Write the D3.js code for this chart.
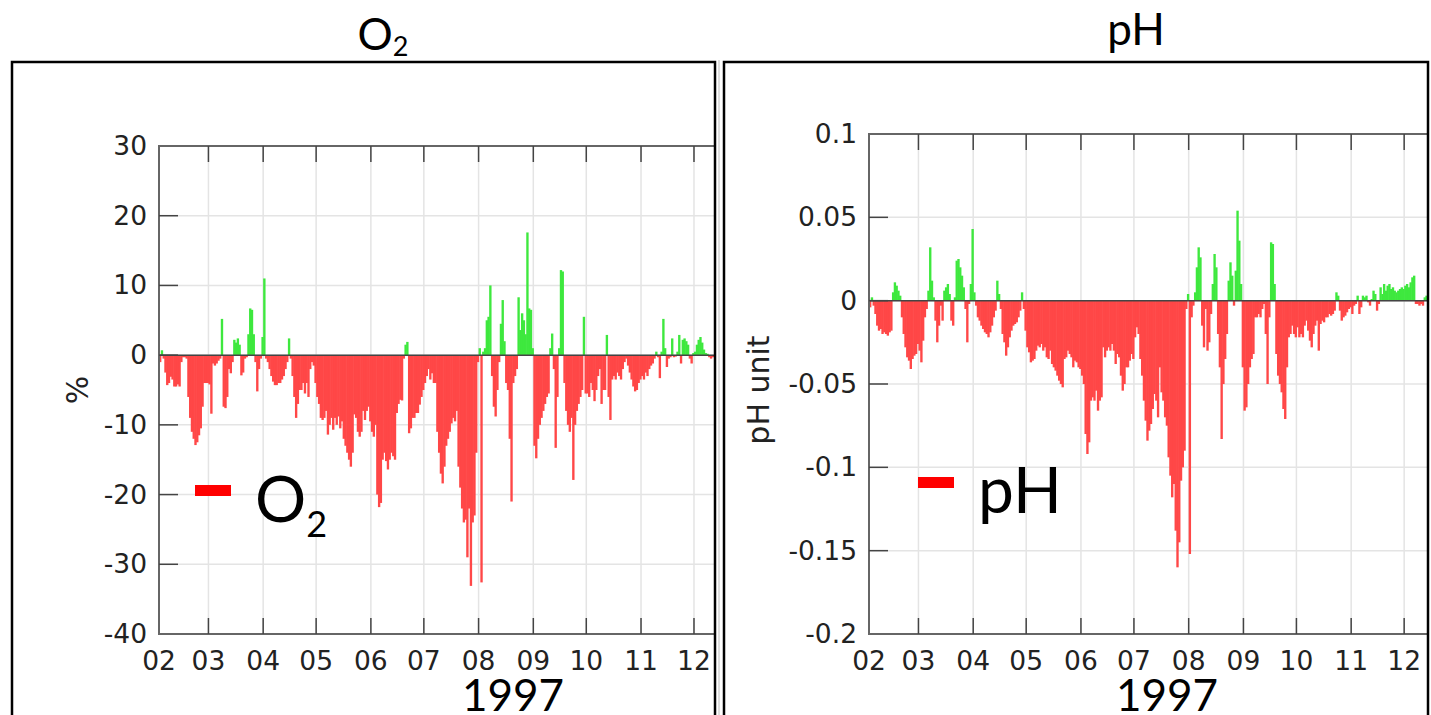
<!DOCTYPE html>
<html>
<head>
<meta charset="utf-8">
<script src="https://cdn.jsdelivr.net/npm/d3@7"></script>
<style>
  body { margin: 0; background: #fff; }
  svg { display: block; }
</style>
</head>
<body>
<div id="chart"></div>
<script>
// daily anomalies, one value per day starting 1 Feb 1997
const startDate = new Date(1997, 1, 1);

const o2Values = [
  // Feb
  -1, 0.7, -0.5, -2.5, -4.3, -4, -3.1, -3.5, -4.5, -4.5, -4.2, -4.5, -1, -0.3, -0.3, -0.5, -6, -9, -11, -12, -12.9, -12.5, -11.5, -10.5, -7.4, -4, -4, -4,
  // Mar
  -4.2, -8.4, -1.2, -1.5, -1.2, -0.8, -0.5, 5.2, -7.4, -7.6, -6, -2, -2.6, -1, 2.2, 1.8, 2.4, 1.5, -2.9, -2.5, -0.5, -0.3, 3, 6.7, 6.5, 3, -1, -5.2, -2, -0.5, 2.6,
  // Apr
  11, -0.5, -1, -2, -3, -3.8, -4.3, -4.3, -4, -4, -3.5, -3, -2, -1, 2.4, -0.5, -3, -6, -9, -7, -5, -5, -4, -5.5, -4, -6, -2, -1, -1.5, -4,
  // May
  -6, -7, -9, -9.3, -9, -8, -11.4, -10, -9, -10.7, -9, -10, -8.8, -10.5, -9.5, -12, -13, -14, -15, -16, -14, -8.5, -9, -11, -11.7, -11, -8, -9.3, -8, -7.4, -9.5,
  // Jun
  -11, -11.7, -10, -20, -21.8, -21.2, -15, -14, -15.2, -16.4, -15, -14, -14.5, -15, -8.3, -7, -6.4, -6.5, -0.5, 1.5, 1.9, -11.2, -10.5, -9, -9, -8.3, -8.3, -7.1, -6, -5,
  // Jul
  -4, -3, -2, -3.5, -2.6, -4, -4, -11, -14, -17, -18.4, -16, -13, -12, -11, -9.8, -9, -9.5, -8, -16, -19, -22, -24, -23.6, -29, -22, -33.1, -24, -23, -14, -1,
  // Aug
  1, -32.6, 0.5, 1, 5, 5.5, 10, -3, -7.4, -8.8, -5, -1, 4.5, 7.9, 2, -4, -5, -12, -21, -4, -3, -2, 8.3, 3.6, 6, 5, 3, 17.6, 6.7, 6.5, 1,
  // Sep
  -13, -14.8, -12, -10, -9, -8, -7, -6, -5.5, 1, 3.1, -2, -13.3, -6, 1, 12.2, 12, -4, -8, -10, -11, -9, -17.9, -10, -8, -7, -6, -5, 5.5, -5.5,
  // Oct
  -5.5, -6, -4, -5, -6.6, -5, -3, -2, -7, -5, -5, 2.9, -6, -9.3, -3.5, -3, -3.5, -2.5, -3, -3.5, -2, -1, -0.5, -1.5, -2.5, -3.5, -4.5, -5.2, -5, -4, -3.5,
  // Nov
  -3, -3.5, -2.5, -3, -2, -1.5, -1.2, -0.5, 0.5, -0.3, -3.3, 0.5, 5.2, 1, -1.7, -0.5, -0.3, 2.4, -0.3, -0.2, 0.5, 2.9, -1.2, 2.2, 2.4, 2, 1.5, -0.5, -1.2, 0.3,
  // Dec
  0.5, 1.5, 2.2, 2.6, 1.8, 0.8, 0.3, 0.2, -0.3, -0.5, -0.3
];

const phValues = [
  // Feb
  -0.004, 0.002, -0.003, -0.008, -0.015, -0.018, -0.017, -0.02, -0.019, -0.02, -0.021, -0.019, -0.018, 0.005, 0.011, 0.009, 0.006, 0.003, -0.01, -0.02, -0.028, -0.034, -0.036, -0.041, -0.035, -0.033, -0.032, -0.026,
  // Mar
  -0.03, -0.037, -0.024, -0.01, -0.005, 0.006, 0.032, 0.012, 0.002, -0.012, -0.025, -0.015, -0.003, -0.012, 0.006, 0.008, 0.01, 0.004, -0.012, -0.015, 0.002, 0.024, 0.025, 0.02, 0.015, 0.008, -0.005, -0.025, -0.002, 0.01, 0.043,
  // Apr
  0.005, -0.003, -0.01, -0.012, -0.015, -0.017, -0.019, -0.02, -0.022, -0.019, -0.015, -0.01, -0.006, 0.012, 0.004, -0.005, -0.02, -0.025, -0.033, -0.028, -0.022, -0.018, -0.015, -0.014, -0.013, -0.01, -0.006, 0.005, -0.005, -0.018,
  // May
  -0.028, -0.031, -0.037, -0.036, -0.035, -0.03, -0.027, -0.028, -0.026, -0.03, -0.028, -0.034, -0.035, -0.03, -0.038, -0.04, -0.042, -0.045, -0.048, -0.05, -0.052, -0.035, -0.034, -0.03, -0.032, -0.034, -0.04, -0.036, -0.037, -0.04, -0.041,
  // Jun
  -0.045, -0.05, -0.08, -0.092, -0.085, -0.06, -0.058, -0.06, -0.054, -0.066, -0.06, -0.058, -0.028, -0.034, -0.03, -0.028, -0.03, -0.026, -0.03, -0.038, -0.032, -0.034, -0.045, -0.054, -0.05, -0.04, -0.04, -0.036, -0.032, -0.035,
  // Jul
  -0.022, -0.016, -0.02, -0.035, -0.045, -0.06, -0.072, -0.084, -0.078, -0.074, -0.065, -0.056, -0.06, -0.07, -0.04, -0.055, -0.06, -0.07, -0.075, -0.094, -0.105, -0.118, -0.11, -0.138, -0.16, -0.145, -0.108, -0.1, -0.09, -0.005, 0.004,
  // Aug
  -0.152, -0.01, -0.003, 0.005, 0.02, 0.032, 0.026, -0.015, -0.028, -0.005, -0.03, -0.025, -0.008, 0.01, 0.028, 0.02, -0.02, -0.04, -0.083, -0.05, -0.035, -0.02, 0.012, 0.023, 0.015, -0.003, 0.018, 0.054, 0.036, 0.01, -0.04,
  // Sep
  -0.066, -0.064, -0.05, -0.04, -0.035, -0.032, -0.01, -0.01, -0.008, -0.01, -0.005, -0.002, -0.02, -0.05, -0.01, 0.035, 0.034, 0.01, -0.032, -0.045, -0.05, -0.055, -0.065, -0.071, -0.04, -0.022, -0.02, -0.015, -0.02, -0.022,
  // Oct
  -0.016, -0.022, -0.02, -0.022, -0.015, -0.012, -0.018, -0.024, -0.028, -0.02, -0.015, -0.012, -0.03, -0.014, -0.012, -0.013, -0.01, -0.01, -0.008, -0.009, -0.008, -0.006, 0.005, 0.003, -0.006, -0.012, -0.01, -0.009, -0.007, -0.005, -0.004,
  // Nov
  -0.008, -0.003, -0.002, 0.003, -0.008, -0.004, 0.003, 0.002, 0.003, -0.001, -0.003, 0.001, 0.006, 0.004, -0.006, -0.002, 0.008, 0.004, 0.01, 0.006, 0.009, 0.01, 0.007, 0.008, 0.006, 0.005, 0.006, 0.007, 0.008, 0.007,
  // Dec
  0.009, 0.01, 0.008, 0.011, 0.014, 0.015, -0.002, -0.002, -0.003, -0.002, -0.003, 0.002, 0.003, 0.001
];

const o2Ticks = [30, 20, 10, 0, -10, -20, -30, -40];
const phTicks = [0.1, 0.05, 0, -0.05, -0.1, -0.15, -0.2];
const yearLabel = "1997";

const posColor = "#3ee83e";
const negColor = "#ff4747";

const svg = d3.select("#chart")
  .append("svg")
  .attr("width", 1431)
  .attr("height", 715);

svg.append("rect")
  .attr("width", 1431)
  .attr("height", 715)
  .attr("fill", "#fff");

// thin grey separator between the two panels
svg.append("line")
  .attr("x1", 719).attr("x2", 719)
  .attr("y1", 60).attr("y2", 715)
  .attr("stroke", "#bbb")
  .attr("stroke-width", 1);

drawPanel({
  id: "o2",
  values: o2Values,
  ticks: o2Ticks,
  yDomain: [-40, 30],
  xEnd: new Date(1997, 11, 12, 8),
  frame: { x: 12, y: 62, w: 703 },
  plot: { left: 159, right: 714, top: 146, bottom: 634 },
  title: { x: 383, y: 50, main: "O", sub: "2" },
  yLabel: { x: 88, y: 390, text: "%" },
  legend: { x: 195, y: 485, textX: 255, textY: 522, main: "O", sub: "2" },
  yearX: 513
});

drawPanel({
  id: "ph",
  values: phValues,
  ticks: phTicks,
  yDomain: [-0.2, 0.1],
  xEnd: new Date(1997, 11, 14, 12),
  frame: { x: 724, y: 62, w: 704 },
  plot: { left: 869, right: 1428, top: 134, bottom: 634 },
  title: { x: 1136, y: 45, main: "pH", sub: "" },
  yLabel: { x: 769, y: 390, text: "pH unit" },
  legend: { x: 918, y: 477, textX: 978, textY: 513, main: "pH", sub: "" },
  yearX: 1167
});

function drawPanel(cfg) {
  const p = cfg.plot;

  const x = d3.scaleTime()
    .domain([startDate, cfg.xEnd])
    .range([p.left, p.right]);

  const y = d3.scaleLinear()
    .domain(cfg.yDomain)
    .range([p.bottom, p.top]);

  const data = cfg.values.map((v, i) => ({
    date: d3.timeDay.offset(startDate, i),
    value: v
  }));

  const months = d3.timeMonth.range(startDate, cfg.xEnd);

  const g = svg.append("g");

  // clip for the bars
  g.append("clipPath")
    .attr("id", "clip-" + cfg.id)
    .append("rect")
    .attr("x", p.left)
    .attr("y", p.top)
    .attr("width", p.right - p.left)
    .attr("height", p.bottom - p.top);

  // grid
  g.selectAll(".vgrid")
    .data(months.slice(1))
    .enter()
    .append("line")
    .attr("x1", d => x(d)).attr("x2", d => x(d))
    .attr("y1", p.top).attr("y2", p.bottom)
    .attr("stroke", "#e4e4e4")
    .attr("stroke-width", 1.5);

  g.selectAll(".hgrid")
    .data(cfg.ticks)
    .enter()
    .append("line")
    .attr("x1", p.left).attr("x2", p.right)
    .attr("y1", d => y(d)).attr("y2", d => y(d))
    .attr("stroke", "#e4e4e4")
    .attr("stroke-width", 1.5);

  // bars, slightly widened so neighbouring days touch
  g.append("g")
    .attr("clip-path", `url(#clip-${cfg.id})`)
    .selectAll("rect")
    .data(data)
    .enter()
    .append("rect")
    .attr("x", d => x(d.date))
    .attr("width", d => x(d3.timeDay.offset(d.date, 1)) - x(d.date) + 0.6)
    .attr("y", d => y(Math.max(0, d.value)))
    .attr("height", d => Math.abs(y(d.value) - y(0)))
    .attr("fill", d => d.value >= 0 ? posColor : negColor);

  // zero line
  g.append("line")
    .attr("x1", p.left).attr("x2", p.right)
    .attr("y1", y(0)).attr("y2", y(0))
    .attr("stroke", "#444")
    .attr("stroke-width", 1.5);

  // axes lines: left, top, bottom
  g.append("path")
    .attr("d", `M${p.right},${p.top}H${p.left}V${p.bottom}H${p.right}`)
    .attr("fill", "none")
    .attr("stroke", "#666")
    .attr("stroke-width", 2);

  // x ticks (inside, top and bottom)
  g.selectAll(".xtickB")
    .data(months.slice(1))
    .enter()
    .append("line")
    .attr("x1", d => x(d)).attr("x2", d => x(d))
    .attr("y1", p.bottom).attr("y2", p.bottom - 16)
    .attr("stroke", "#444")
    .attr("stroke-width", 1.5);

  g.selectAll(".xtickT")
    .data(months.slice(1))
    .enter()
    .append("line")
    .attr("x1", d => x(d)).attr("x2", d => x(d))
    .attr("y1", p.top).attr("y2", p.top + 16)
    .attr("stroke", "#444")
    .attr("stroke-width", 1.5);

  // y ticks
  g.selectAll(".ytick")
    .data(cfg.ticks.slice(1, -1))
    .enter()
    .append("line")
    .attr("x1", p.left).attr("x2", p.left + 19)
    .attr("y1", d => y(d)).attr("y2", d => y(d))
    .attr("stroke", "#444")
    .attr("stroke-width", 1.5);

  // tick labels
  const fmtMonth = d3.timeFormat("%m");
  g.selectAll(".xlab")
    .data(months)
    .enter()
    .append("text")
    .attr("x", d => x(d))
    .attr("y", p.bottom + 36)
    .attr("text-anchor", "middle")
    .style("font-family", "DejaVu Sans, sans-serif")
    .style("font-size", "26.5px")
    .attr("fill", "#222")
    .text(d => fmtMonth(d));

  g.selectAll(".ylab")
    .data(cfg.ticks)
    .enter()
    .append("text")
    .attr("x", p.left - 12)
    .attr("y", d => y(d) + 9)
    .attr("text-anchor", "end")
    .style("font-family", "DejaVu Sans, sans-serif")
    .style("font-size", "26.5px")
    .attr("fill", "#222")
    .text(d => String(+d.toFixed(3)));

  // y label
  g.append("text")
    .attr("transform", `translate(${cfg.yLabel.x},${cfg.yLabel.y}) rotate(-90)`)
    .attr("text-anchor", "middle")
    .style("font-family", "DejaVu Sans, sans-serif")
    .style("font-size", "30px")
    .attr("fill", "#222")
    .text(cfg.yLabel.text);

  // year label
  g.append("text")
    .attr("x", cfg.yearX)
    .attr("y", 711)
    .attr("text-anchor", "middle")
    .style("font-family", "Lato, sans-serif")
    .style("font-size", "44px")
    .attr("fill", "#000")
    .text(yearLabel);

  // frame
  svg.append("rect")
    .attr("x", cfg.frame.x)
    .attr("y", cfg.frame.y)
    .attr("width", cfg.frame.w)
    .attr("height", 720)
    .attr("fill", "none")
    .attr("stroke", "#000")
    .attr("stroke-width", 2.5);

  // title
  const t = svg.append("text")
    .attr("x", cfg.title.x)
    .attr("y", cfg.title.y)
    .attr("text-anchor", "middle")
    .style("font-family", "Lato, sans-serif")
    .style("font-size", "44px")
    .attr("fill", "#000");
  t.append("tspan").text(cfg.title.main);
  if (cfg.title.sub) {
    t.append("tspan")
      .attr("dy", 6)
      .style("font-size", "27px")
      .text(cfg.title.sub);
  }

  // legend
  svg.append("rect")
    .attr("x", cfg.legend.x)
    .attr("y", cfg.legend.y)
    .attr("width", 36)
    .attr("height", 11)
    .attr("fill", "#ff0000");

  const lt = svg.append("text")
    .attr("x", cfg.legend.textX)
    .attr("y", cfg.legend.textY)
    .style("font-family", "Lato, sans-serif")
    .style("font-size", "64px")
    .attr("fill", "#000");
  lt.append("tspan").text(cfg.legend.main);
  if (cfg.legend.sub) {
    lt.append("tspan")
      .attr("dy", 15)
      .style("font-size", "36px")
      .text(cfg.legend.sub);
  }
}
</script>
</body>
</html>
